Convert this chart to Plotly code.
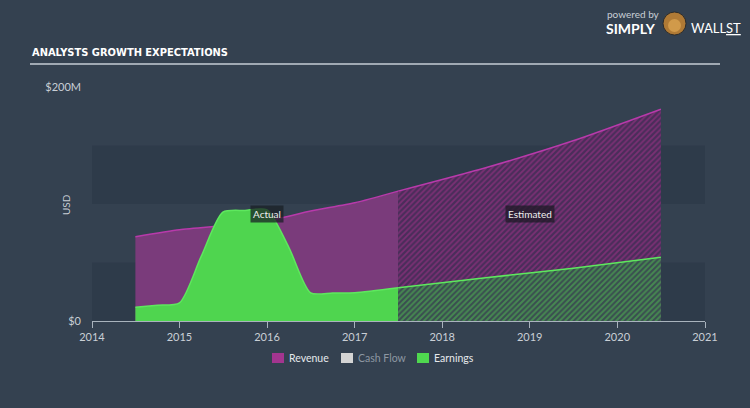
import plotly.graph_objects as go

# ---------------- data (values in $M) ----------------
rev_act_dates = ["2014-07-01", "2015-01-01", "2015-07-01", "2016-01-01",
                 "2016-07-01", "2017-01-01", "2017-07-01"]
rev_act = [72, 78, 81.5, 85.5, 94, 101, 111]

rev_est_dates = ["2017-07-01", "2018-07-01", "2019-07-01", "2020-07-01"]
rev_est = [111, 131, 154, 181]

earn_act_dates = ["2014-07-01", "2014-10-01", "2015-01-01", "2015-04-01",
                  "2015-07-01", "2015-10-01", "2016-01-01", "2016-04-01",
                  "2016-07-01", "2016-10-01", "2017-01-01", "2017-07-01"]
earn_act = [11.7, 13.5, 15.5, 55, 93, 94.5, 95, 63, 24, 24, 24.2, 28.5]

earn_est_dates = ["2017-07-01", "2018-07-01", "2019-07-01", "2020-07-01"]
earn_est = [28.5, 37, 45, 54.4]

year_ticks = ["2014-01-01", "2015-01-01", "2016-01-01", "2017-01-01",
              "2018-01-01", "2019-01-01", "2020-01-01", "2021-01-01"]
year_labels = ["2014", "2015", "2016", "2017", "2018", "2019", "2020", "2021"]
y_tickvals = [0, 200]
y_ticktext = ["$0", "$200M"]
legend_names = ["Revenue", "Cash Flow", "Earnings"]

# ---------------- style ----------------
BG = "#344150"
BAND = "#2e3b4a"
PURPLE_FILL = "#7a3b7b"
PURPLE_LINE = "#b83aab"
GREEN_FILL = "#4fd54f"
GREEN_LINE = "#5ee85e"
TXT = "#c9cfd6"
FONT = "Lato, 'Open Sans', sans-serif"

L, R, T, B = 92, 705, 87, 321
W, H = 750, 408


def px(x):
    return (x - L) / (R - L)


def py(y):
    return (B - y) / (B - T)


fig = go.Figure()

# Revenue actual
fig.add_trace(go.Scatter(
    x=rev_act_dates, y=rev_act, mode="lines", fill="tozeroy",
    fillcolor=PURPLE_FILL, line=dict(color=PURPLE_LINE, width=1.5, shape="spline", smoothing=0.6),
    hoverinfo="skip", showlegend=False))
# Revenue estimated (hatched)
fig.add_trace(go.Scatter(
    x=rev_est_dates, y=rev_est, mode="lines", fill="tozeroy",
    fillcolor="#4a2d5a",
    fillpattern=dict(shape="/", fgcolor="#ab338e", bgcolor="#4a2d5a", size=4, solidity=0.45),
    line=dict(color=PURPLE_LINE, width=1.5, shape="spline", smoothing=0.6),
    hoverinfo="skip", showlegend=False))
# Earnings actual
fig.add_trace(go.Scatter(
    x=earn_act_dates, y=earn_act, mode="lines", fill="tozeroy",
    fillcolor=GREEN_FILL, line=dict(color=GREEN_LINE, width=1.5, shape="spline", smoothing=0.7),
    hoverinfo="skip", showlegend=False))
# Earnings estimated (hatched)
fig.add_trace(go.Scatter(
    x=earn_est_dates, y=earn_est, mode="lines", fill="tozeroy",
    fillcolor="#3a4d50",
    fillpattern=dict(shape="/", fgcolor="#52c452", bgcolor="#3a4d50", size=4, solidity=0.5),
    line=dict(color=GREEN_LINE, width=1.5, shape="spline", smoothing=0.6),
    hoverinfo="skip", showlegend=False))

shapes = []
# horizontal bands
for y0, y1 in [(0, 50), (100, 150)]:
    shapes.append(dict(type="rect", xref="x", yref="y", x0=year_ticks[0], x1=year_ticks[-1],
                       y0=y0, y1=y1, fillcolor=BAND, line=dict(width=0), layer="below"))
# title underline
shapes.append(dict(type="line", xref="paper", yref="paper", x0=px(30), x1=px(720),
                   y0=py(64), y1=py(64), line=dict(color="#c5ccd4", width=1.5)))

annotations = []
annotations.append(dict(xref="paper", yref="paper", x=px(30), y=py(52), xanchor="left", yanchor="middle",
                        text="<b>ANALYSTS GROWTH EXPECTATIONS</b>", showarrow=False,
                        font=dict(family="'Liberation Sans Narrow', 'DejaVu Sans Condensed', sans-serif",
                                  size=11, color="#ffffff")))
annotations.append(dict(xref="paper", yref="paper", x=px(66), y=py(205), xanchor="center", yanchor="middle",
                        text="USD", textangle=-90, showarrow=False, font=dict(family=FONT, size=10, color=TXT)))
# Actual / Estimated labels
annotations.append(dict(x="2016-01-01", y=(B - 214) / (B - T) * 200, xref="x", yref="y",
                        text="Actual", showarrow=False, bgcolor="rgba(25,32,38,0.75)",
                        font=dict(family=FONT, size=10, color="#eeeeee"), borderpad=2))
annotations.append(dict(x="2019-01-01", y=(B - 214) / (B - T) * 200, xref="x", yref="y",
                        text="Estimated", showarrow=False, bgcolor="rgba(30,25,38,0.75)",
                        font=dict(family=FONT, size=10, color="#eeeeee"), borderpad=2))

# legend (manual)
leg_items = [(272, legend_names[0], "#a3358f", "#e6e9ec"),
             (341, legend_names[1], "#d4d4d4", "#8d97a2"),
             (417, legend_names[2], "#4fd84f", "#e6e9ec")]
for x0, name, col, tcol in leg_items:
    shapes.append(dict(type="rect", xref="paper", yref="paper", x0=px(x0), x1=px(x0 + 12),
                       y0=py(363), y1=py(353), fillcolor=col, line=dict(width=0)))
    annotations.append(dict(xref="paper", yref="paper", x=px(x0 + 15), y=py(358), xanchor="left",
                            yanchor="middle", text=name, showarrow=False,
                            font=dict(family=FONT, size=10.5, color=tcol)))

# logo
annotations.append(dict(xref="paper", yref="paper", x=px(605), y=py(14), xanchor="left", yanchor="middle",
                        text="powered by", showarrow=False, font=dict(family=FONT, size=10, color="#c9cfd6")))
annotations.append(dict(xref="paper", yref="paper", x=px(604), y=py(28), xanchor="left", yanchor="middle",
                        text="<b>SIMPLY</b>", showarrow=False, font=dict(family=FONT, size=14, color="#ffffff")))
annotations.append(dict(xref="paper", yref="paper", x=px(689), y=py(28), xanchor="left", yanchor="middle",
                        text="WALL<u>ST</u>", showarrow=False, font=dict(family=FONT, size=13, color="#ffffff")))
shapes.append(dict(type="circle", xref="paper", yref="paper", x0=px(663), x1=px(686), y0=py(35), y1=py(12),
                   fillcolor="#b07a35", line=dict(color="#2a2a2a", width=1)))
shapes.append(dict(type="circle", xref="paper", yref="paper", x0=px(668), x1=px(681), y0=py(32), y1=py(19),
                   fillcolor="#d19a4a", line=dict(width=0)))

fig.update_layout(
    width=W, height=H,
    margin=dict(l=L, r=W - R, t=T, b=H - B, pad=0),
    paper_bgcolor=BG, plot_bgcolor=BG,
    font=dict(family=FONT, size=11, color=TXT),
    showlegend=False,
    shapes=shapes, annotations=annotations,
    xaxis=dict(type="date", range=[year_ticks[0], year_ticks[-1]], tickvals=year_ticks,
               ticktext=year_labels, showgrid=False, zeroline=False, showline=True,
               linecolor="#a9b3bd", linewidth=1, ticks="outside", ticklen=6, tickcolor="#a9b3bd",
               tickfont=dict(family=FONT, size=11, color=TXT), fixedrange=True),
    yaxis=dict(range=[0, 200], tickvals=y_tickvals, ticktext=y_ticktext, showgrid=False,
               zeroline=False, showline=False, ticks="", ticklabelstandoff=10,
               tickfont=dict(family=FONT, size=11, color=TXT), fixedrange=True),
)

fig.write_html("out.html")
